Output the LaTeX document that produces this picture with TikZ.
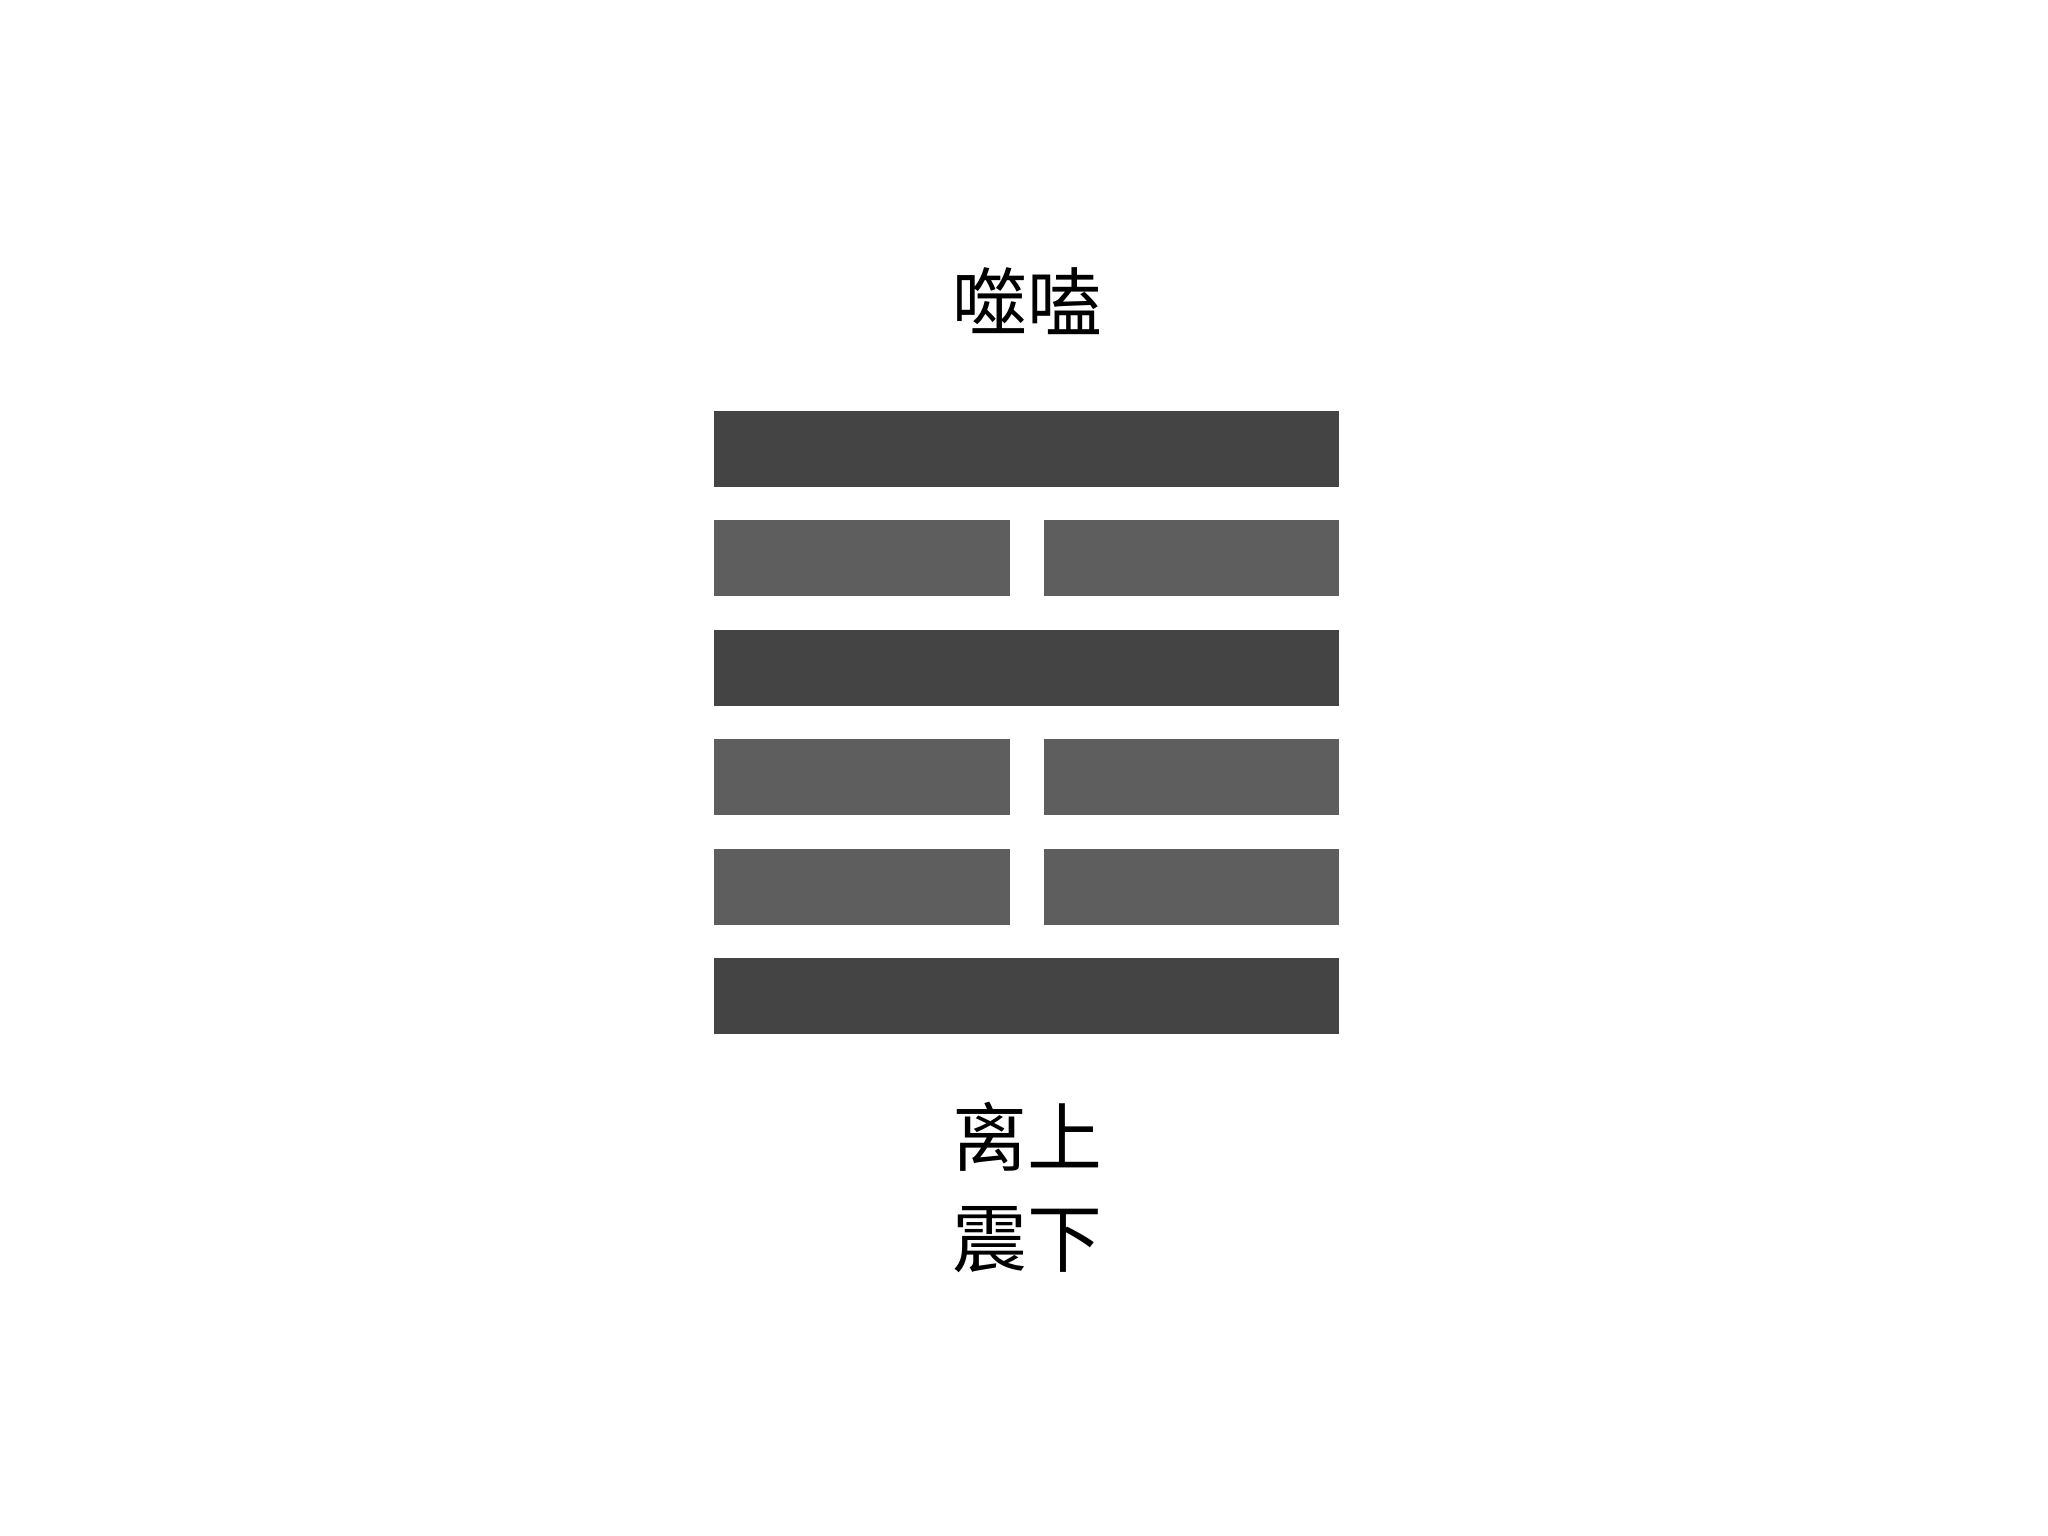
\documentclass[tikz,border=0pt]{standalone}
\usepackage{fontspec}
\newfontfamily\cjk{Noto Sans CJK SC}
\usetikzlibrary{positioning}
\definecolor{dark}{RGB}{68,68,68}
\definecolor{light}{RGB}{94,94,94}
\def\Gua{噬嗑}

\begin{document}
\begin{tikzpicture}[% styles for all nodes, override case-by-case
        every node/.style={
            align=center,   % so that "\\" breaks the line
            inner sep=0pt,  % bars get exactly their minimum size
            outer sep=0pt,
            font=\cjk\fontsize{21.3pt}{28.7pt}\selectfont
        },
        yang/.style={rectangle,fill=dark,minimum width=6.25cm,minimum height=0.76cm},
        yin/.style={rectangle,fill=light,minimum width=2.955cm,minimum height=0.76cm},
        node distance=0.335cm
    ]
    \fill[white] (0,0) rectangle (20.48,15.36);
    \useasboundingbox (0,0) rectangle (20.48,15.36);
    \node (T) at (10.27,12.35) {\Gua};
    \node[yang] (L6) at (10.265,10.87) {};
    \node[yin] (L5a) [below=of L6.south west,anchor=north west] {};
    \node[yin] (L5b) [below=of L6.south east,anchor=north east] {};
    \node[yang] (L4) [below=of L5a.south west,anchor=north west] {};
    \node[yin] (L3a) [below=of L4.south west,anchor=north west] {};
    \node[yin] (L3b) [below=of L4.south east,anchor=north east] {};
    \node[yin] (L2a) [below=of L3a] {};
    \node[yin] (L2b) [below=of L3b] {};
    \node[yang] (L1) [below=of L2a.south west,anchor=north west] {};
    \node (Tri) at (10.27,3.485) {离上\\震下};
\end{tikzpicture}
\end{document}
